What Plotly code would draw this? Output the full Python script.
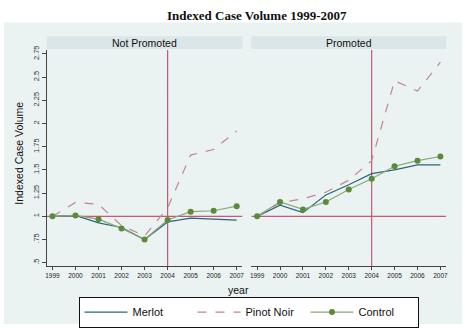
import plotly.graph_objects as go

W, H = 468, 328

years = [1999, 2000, 2001, 2002, 2003, 2004, 2005, 2006, 2007]
panels = ["Not Promoted", "Promoted"]

# Indexed case volume, 1999 = 1
merlot_np = [1.00, 1.01, 0.93, 0.88, 0.75, 0.94, 0.98, 0.97, 0.96]
pinot_np = [1.00, 1.15, 1.13, 0.90, 0.79, 1.09, 1.66, 1.72, 1.92]
control_np = [1.00, 1.01, 0.97, 0.87, 0.75, 0.96, 1.05, 1.06, 1.11]

merlot_p = [1.00, 1.12, 1.04, 1.23, 1.34, 1.46, 1.50, 1.555, 1.555]
pinot_p = [1.00, 1.145, 1.19, 1.26, 1.39, 1.60, 2.46, 2.35, 2.66]
control_p = [1.00, 1.155, 1.075, 1.155, 1.29, 1.405, 1.54, 1.60, 1.645]

ytick_vals = [0.5, 0.75, 1, 1.25, 1.5, 1.75, 2, 2.25, 2.5, 2.75]
ytick_text = [".5", ".75", "1", "1.25", "1.5", "1.75", "2", "2.25", "2.5", "2.75"]

promo_year = 2004
baseline = 1

C_MERLOT = "#2b6878"
C_PINOT = "#c4868e"
C_CONTROL_LINE = "#8aa879"
C_CONTROL_MARK = "#5a8a3a"
C_REF = "#c45a78"
BG = "#eaf2f2"
STRIP = "#dae6e8"
FONT = "Liberation Sans, Arial, sans-serif"


def px(x):
    return x / W


def py(y):
    return 1 - y / H


y_top, y_bot = 47, 268
dom_left = [px(46), px(243)]
dom_right = [px(252), px(448)]
dom_y = [py(y_bot), py(y_top)]
xrange_ = [1998.75, 2007.25]
yrange_ = [0.462, 2.792]

fig = go.Figure()

# reference lines: promotion year (vertical) and index baseline (horizontal)
for xa, ya in (("x", "y"), ("x2", "y2")):
    fig.add_trace(go.Scatter(x=[promo_year, promo_year], y=yrange_, mode="lines",
                             line=dict(color=C_REF, width=1.2), xaxis=xa, yaxis=ya,
                             showlegend=False, hoverinfo="skip"))
    fig.add_trace(go.Scatter(x=xrange_, y=[baseline, baseline], mode="lines",
                             line=dict(color=C_REF, width=1.2), xaxis=xa, yaxis=ya,
                             showlegend=False, hoverinfo="skip"))

series = [
    ("Merlot", [merlot_np, merlot_p], dict(color=C_MERLOT, width=1.2), "lines", None),
    ("Pinot Noir", [pinot_np, pinot_p], dict(color=C_PINOT, width=1.2, dash="dash"), "lines", None),
    ("Control", [control_np, control_p], dict(color=C_CONTROL_LINE, width=1.2), "lines+markers",
     dict(color=C_CONTROL_MARK, size=6)),
]

for name, vals, line, mode, marker in series:
    for i, v in enumerate(vals):
        fig.add_trace(go.Scatter(
            x=years, y=v, name=name, mode=mode, line=line, marker=marker,
            xaxis="x" if i == 0 else "x2", yaxis="y" if i == 0 else "y2",
            showlegend=(i == 0), legendgroup=name,
        ))

xcommon = dict(
    range=xrange_, tickvals=years, ticks="outside", ticklen=3, tickcolor="#444",
    tickfont=dict(family=FONT, size=6.5, color="#222"), showgrid=False,
    showline=True, linecolor="#444", linewidth=1, zeroline=False, fixedrange=True,
)
ycommon = dict(
    range=yrange_, tickvals=ytick_vals, showgrid=True, gridcolor="#edf2f2",
    gridwidth=1, zeroline=False, fixedrange=True,
)

fig.update_layout(
    width=W, height=H,
    margin=dict(l=0, r=0, t=0, b=0),
    paper_bgcolor="white",
    plot_bgcolor="white",
    xaxis=dict(domain=dom_left, anchor="y", **xcommon),
    xaxis2=dict(domain=dom_right, anchor="y2", **xcommon),
    yaxis=dict(domain=dom_y, anchor="x", ticktext=ytick_text, ticks="outside", ticklen=4,
               tickcolor="#444", tickangle=-90,
               tickfont=dict(family=FONT, size=7.5, color="#333"),
               showline=True, linecolor="#444", linewidth=1, **ycommon),
    yaxis2=dict(domain=dom_y, anchor="x2", showticklabels=False, ticks="",
                showline=False, **ycommon),
    showlegend=True,
    legend=dict(
        orientation="h", x=px(79), y=py(299), xanchor="left", yanchor="top",
        bgcolor="white", bordercolor="#111", borderwidth=1,
        font=dict(family=FONT, size=11, color="#111"),
        itemwidth=43, entrywidth=55, tracegroupgap=0,
    ),
)

shapes = [
    # outer graph region
    dict(type="rect", xref="paper", yref="paper", x0=px(3), x1=px(464), y0=py(327), y1=py(19),
         fillcolor=BG, line=dict(width=0), layer="below"),
]
# panel header strips
for dom in (dom_left, dom_right):
    shapes.append(dict(type="rect", xref="paper", yref="paper", x0=dom[0], x1=dom[1],
                       y0=py(46), y1=py(33), fillcolor=STRIP, line=dict(width=0), layer="below"))
fig.update_layout(shapes=shapes)

annotations = [
    dict(text="<b>Indexed Case Volume 1999-2007</b>", x=px(258), y=py(12),
         font=dict(family="Liberation Serif, Times New Roman, serif", size=13, color="#111")),
    dict(text="Not Promoted", x=(dom_left[0] + dom_left[1]) / 2, y=py(39.5),
         font=dict(family=FONT, size=10.5, color="#111")),
    dict(text="Promoted", x=(dom_right[0] + dom_right[1]) / 2, y=py(39.5),
         font=dict(family=FONT, size=10.5, color="#111")),
    dict(text="Indexed Case Volume", x=px(18), y=py(152), textangle=-90,
         font=dict(family=FONT, size=10.5, color="#111")),
    dict(text="year", x=px(239), y=py(292),
         font=dict(family=FONT, size=10.5, color="#111")),
]
for a in annotations:
    a.update(xref="paper", yref="paper", showarrow=False, xanchor="center", yanchor="middle")
fig.update_layout(annotations=annotations)

fig.write_html("out.html")
